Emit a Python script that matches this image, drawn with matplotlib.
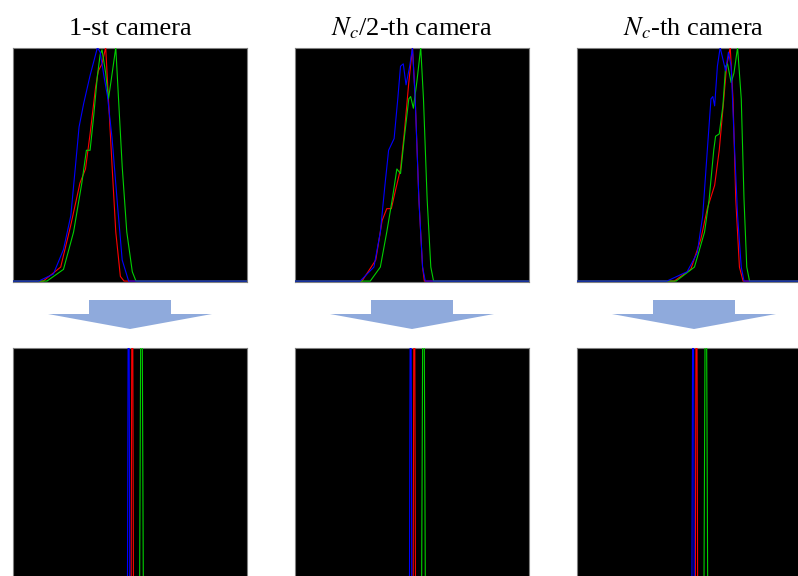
import numpy as np
import matplotlib.pyplot as plt
from matplotlib.patches import Polygon

plt.rcParams['font.family'] = ['Liberation Serif', 'DejaVu Serif']
plt.rcParams['mathtext.fontset'] = 'stix'

titles = ['1-st camera', r'$N_c$/2-th camera', r'$N_c$-th camera']

# colour histograms before equalisation (bin index, normalised count)
cam1_blue_x = [0, 28, 44, 55, 63, 68, 72, 77, 84, 92, 95, 99, 103, 108, 114, 119, 126, 255]
cam1_blue_y = [0, 0, 0.03, 0.135, 0.28, 0.49, 0.66, 0.76, 0.88, 1.0, 0.98, 0.88, 0.79, 0.61, 0.32, 0.09, 0, 0]
cam1_red_x = [0, 33, 52, 63, 73, 79, 84, 90, 93, 97, 101, 104, 108, 112, 117, 121, 255]
cam1_red_y = [0, 0, 0.06, 0.24, 0.42, 0.48, 0.63, 0.83, 0.90, 0.93, 1.0, 0.78, 0.49, 0.21, 0.02, 0, 0]
cam1_green_x = [0, 37, 55, 66, 75, 80, 84, 88, 92, 95, 97, 101, 104, 107, 112, 115, 119, 124, 130, 134, 255]
cam1_green_y = [0, 0, 0.05, 0.21, 0.42, 0.56, 0.56, 0.71, 0.88, 0.97, 0.99, 0.89, 0.78, 0.86, 1.0, 0.78, 0.49, 0.21, 0.04, 0, 0]

cam2_blue_x = [0, 71, 86, 93, 98, 102, 108, 112, 115, 118, 121, 125, 128, 131, 135, 139, 142, 255]
cam2_blue_y = [0, 0, 0.06, 0.21, 0.41, 0.56, 0.61, 0.78, 0.92, 0.93, 0.84, 0.92, 1.0, 0.78, 0.35, 0.06, 0, 0]
cam2_red_x = [0, 73, 88, 95, 100, 105, 109, 115, 119, 124, 128, 131, 135, 139, 141, 255]
cam2_red_y = [0, 0, 0.09, 0.26, 0.31, 0.31, 0.38, 0.48, 0.63, 0.85, 1.0, 0.78, 0.35, 0.06, 0, 0]
cam2_green_x = [0, 82, 93, 100, 106, 111, 115, 119, 124, 126, 129, 133, 137, 140, 144, 148, 151, 255]
cam2_green_y = [0, 0, 0.06, 0.21, 0.35, 0.48, 0.46, 0.61, 0.78, 0.79, 0.74, 0.86, 1.0, 0.78, 0.35, 0.06, 0, 0]

cam3_blue_x = [0, 98, 120, 131, 137, 142, 146, 148, 150, 153, 156, 159, 162, 165, 168, 171, 175, 179, 182, 255]
cam3_blue_y = [0, 0, 0.04, 0.12, 0.28, 0.56, 0.78, 0.79, 0.75, 0.92, 1.0, 0.95, 0.90, 0.98, 0.92, 0.63, 0.28, 0.06, 0, 0]
cam3_red_x = [0, 106, 124, 135, 142, 150, 155, 160, 163, 167, 170, 173, 177, 181, 255]
cam3_red_y = [0, 0, 0.05, 0.18, 0.31, 0.41, 0.56, 0.78, 0.92, 1.0, 0.78, 0.35, 0.06, 0, 0]
cam3_green_x = [0, 108, 128, 139, 144, 149, 151, 155, 159, 162, 164, 168, 171, 175, 179, 182, 185, 188, 255]
cam3_green_y = [0, 0, 0.06, 0.21, 0.35, 0.56, 0.62, 0.63, 0.75, 0.92, 0.93, 0.85, 0.89, 1.0, 0.78, 0.35, 0.06, 0, 0]

# after equalisation every channel collapses to one bin
eq_blue = [126, 126, 126.5]
eq_red = [130, 130, 130.2]
eq_green = [140, 140, 140.4]
eq_halfwidth = {'blue': 1.25, 'red': 1.25, 'green': 2.0}
eq_peak = 1.85

hists = [
    [(cam1_red_x, cam1_red_y), (cam1_green_x, cam1_green_y), (cam1_blue_x, cam1_blue_y)],
    [(cam2_red_x, cam2_red_y), (cam2_green_x, cam2_green_y), (cam2_blue_x, cam2_blue_y)],
    [(cam3_red_x, cam3_red_y), (cam3_green_x, cam3_green_y), (cam3_blue_x, cam3_blue_y)],
]
colors = {'red': '#ff0000', 'green': '#00d000', 'blue': '#0000ff'}
order = ['red', 'green', 'blue']

W, H = 798, 576
fig = plt.figure(figsize=(W / 100, H / 100), dpi=100)

lefts = [13, 295, 577]
pw = 234
arrow_col = '#8faadc'

def style(ax, ybottom):
    ax.set_facecolor('black')
    ax.set_xticks([])
    ax.set_yticks([])
    for s in ax.spines.values():
        s.set_color('#808080')
        s.set_linewidth(0.8)
    ax.set_xlim(0, 255)
    ax.set_ylim(ybottom, 1)

for i in range(3):
    # top: raw histograms
    ax = fig.add_axes([lefts[i] / W, 1 - 282 / H, pw / W, 234.5 / H])
    style(ax, -0.004)
    for c, (x, y) in zip(order, hists[i]):
        ax.plot(x, y, color=colors[c], lw=0.8, zorder=3)

    # bottom: equalised histograms (spikes)
    ax2 = fig.add_axes([lefts[i] / W, 1 - 582 / H, pw / W, 234 / H])
    style(ax2, 0)
    for c, b in zip(order, [eq_red[i], eq_green[i], eq_blue[i]]):
        d = eq_halfwidth[c]
        ax2.plot([0, b - d, b, b + d, 255], [0, 0, eq_peak, 0, 0], color=colors[c], lw=0.8, zorder=3)

    cx = lefts[i] + pw / 2
    fig.text(cx / W, 1 - 35 / H, titles[i], ha='center', va='baseline', fontsize=19)

    # arrow between the rows
    pts = [(cx - 41, 300), (cx + 41, 300), (cx + 41, 314), (cx + 82, 314),
           (cx, 329), (cx - 82, 314), (cx - 41, 314)]
    pts = [(px / W, 1 - py / H) for px, py in pts]
    fig.patches.append(Polygon(pts, closed=True, facecolor=arrow_col, edgecolor='none',
                               transform=fig.transFigure, figure=fig))

plt.savefig('out.png', dpi=100)
